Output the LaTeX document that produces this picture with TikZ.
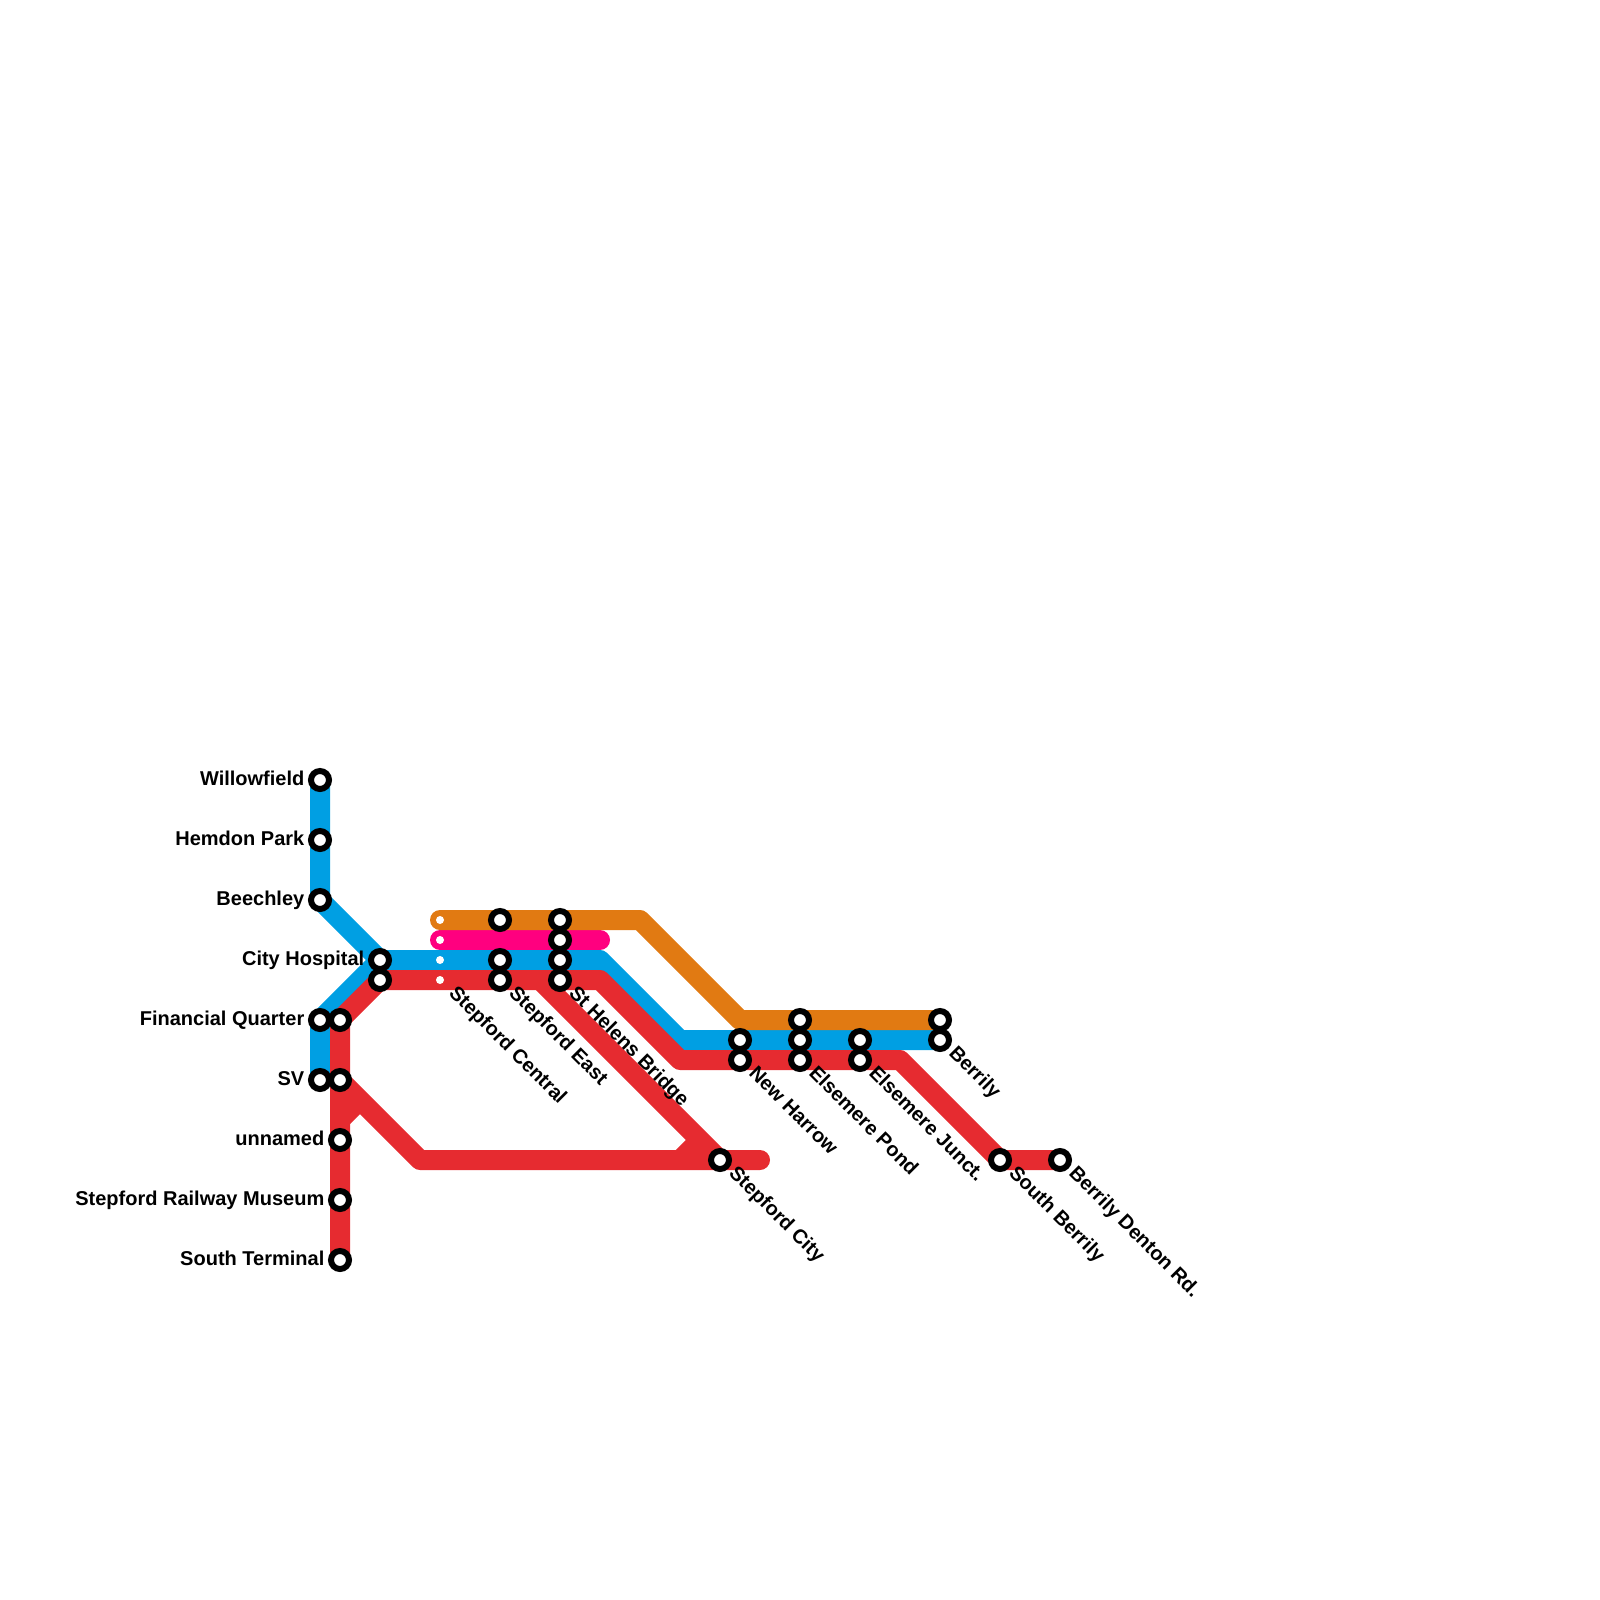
\documentclass[tikz,border=0pt]{standalone}
\usepackage{fontspec}
\setmainfont{Liberation Sans}
\definecolor{lineblue}{HTML}{009FE3}
\definecolor{linered}{HTML}{E62B30}
\definecolor{lineorange}{HTML}{E17A12}
\definecolor{linepink}{HTML}{FF007F}
\tikzset{
  x=1pt,y=-1pt,
  route/.style={line width=20pt,line cap=round,line join=round},
  stn/.style={circle,draw=black,fill=white,line width=6pt,minimum size=18pt,inner sep=0pt,outer sep=0pt},
  dotstop/.style={circle,fill=white,minimum size=8pt,inner sep=0pt},
  lab/.style={font=\bfseries\fontsize{20}{22}\selectfont,inner sep=0pt,text=black},
  leftlab/.style={lab,anchor=base east},
  diaglab/.style={lab,anchor=base west,rotate=-45},
}
\begin{document}
\begin{tikzpicture}
\useasboundingbox (0,0) rectangle (1600,1600);
% station positions
\foreach \n/\x/\y in {wf/320/780,hp/320/840,bc/320/900,cha/380/960,chb/380/980,
  fqa/320/1020,fqb/340/1020,sva/320/1080,svb/340/1080,un/340/1140,srm/340/1200,st/340/1260,
  sca/440/920,scb/440/940,scc/440/960,scd/440/980,
  sea/500/920,seb/500/960,sec/500/980,
  sha/560/920,shb/560/940,shc/560/960,shd/560/980,
  nha/740/1040,nhb/740/1060,
  epa/800/1020,epb/800/1040,epc/800/1060,
  eja/860/1040,ejb/860/1060,
  ba/940/1020,bb/940/1040,
  sc/720/1160,sb/1000/1160,bd/1060/1160,
  oa/640/920,ob/740/1020,
  ka/600/940,
  bl/600/960,bm/680/1040,
  ra/600/980,rb/680/1060,rc/900/1060,
  rd/540/980,re/420/1160,rf/760/1160,
  spa/340/1120,sp/360/1100,spb/700/1140,spc/680/1160}
  {\coordinate (\n) at (\x,\y);}
% lines
\draw[route,lineblue] (wf) -- (bc) -- (cha) -- (bl) -- (bm) -- (bb);
\draw[route,lineblue] (cha) -- (fqa) -- (sva);
\draw[route,linered] (st) -- (fqb) -- (chb) -- (ra) -- (rb) -- (rc) -- (sb) -- (bd);
\draw[route,linered] (rd) -- (sc);
\draw[route,linered] (svb) -- (re) -- (rf);
\draw[route,linered,line cap=butt] (spa) -- (sp);
\draw[route,linered,line cap=butt] (spc) -- (spb);
\draw[route,linepink] (scb) -- (ka);
\draw[route,lineorange] (sca) -- (oa) -- (ob) -- (ba);
% stations
\foreach \n in {sca,scb,scc,scd}{\node[dotstop] (d\n) at (\n) {};}
\foreach \n in {wf,hp,bc,cha,chb,fqa,fqb,sva,svb,un,srm,st,sea,seb,sec,sha,shb,shc,shd,nha,nhb,epa,epb,epc,eja,ejb,ba,bb,sc,sb,bd}
  {\node[stn] (s\n) at (\n) {};}
% left labels
\node[leftlab] (lwf) at (304.5,785.5) {Willowfield};
\node[leftlab] (lhp) at (304.5,845.5) {Hemdon Park};
\node[leftlab] (lbc) at (304.5,905.5) {Beechley};
\node[leftlab] (lch) at (364.5,965.5) {City Hospital};
\node[leftlab] (lfq) at (304.5,1025.5) {Financial Quarter};
\node[leftlab] (lsv) at (304.5,1085.5) {SV};
\node[leftlab] (lun) at (324.5,1145.5) {unnamed};
\node[leftlab] (lsrm) at (324.5,1205.5) {Stepford Railway Museum};
\node[leftlab] (lst) at (324.5,1265.5) {South Terminal};
% diagonal labels
\node[diaglab] (lsc) at (448,994) {Stepford Central};
\node[diaglab] (lse) at (508,994) {Stepford East};
\node[diaglab] (lsh) at (568,994) {St Helens Bridge};
\node[diaglab] (lnh) at (748,1074) {New Harrow};
\node[diaglab] (lep) at (808,1074) {Elsemere Pond};
\node[diaglab] (lej) at (868,1074) {Elsemere Junct.};
\node[diaglab] (lb) at (948,1054) {Berrily};
\node[diaglab] (lsc2) at (728,1174) {Stepford City};
\node[diaglab] (lsb) at (1008,1174) {South Berrily};
\node[diaglab] (lbd) at (1068,1174) {Berrily Denton Rd.};
\end{tikzpicture}
\end{document}
